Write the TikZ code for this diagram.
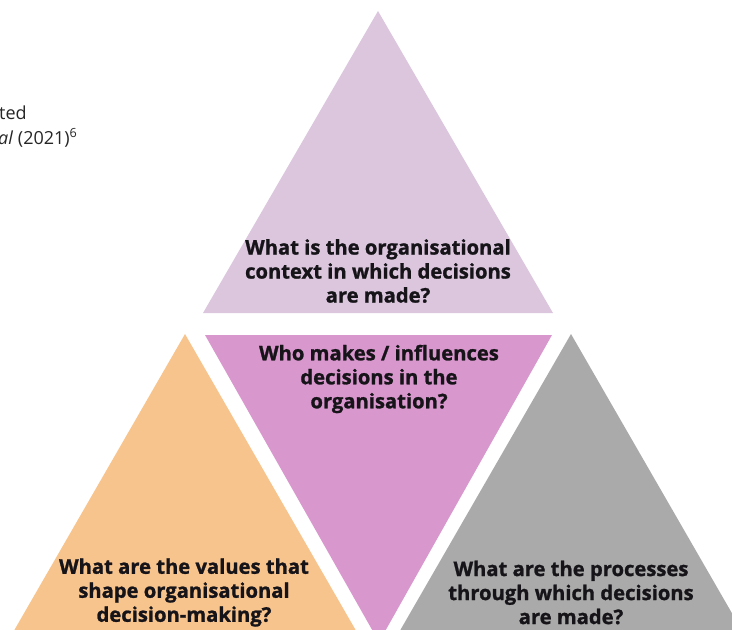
\documentclass[tikz,border=0pt]{standalone}
\usepackage{fontspec}
\setmainfont{Open Sans}
\newfontfamily\questionfont[BoldFeatures={FakeBold=1.2}]{Open Sans}
\definecolor{ctxfill}{RGB}{219,198,222}
\definecolor{whofill}{RGB}{216,151,205}
\definecolor{valfill}{RGB}{248,196,142}
\definecolor{procfill}{RGB}{170,170,170}
\definecolor{qtext}{RGB}{22,20,24}
\begin{document}
\begin{tikzpicture}[x=1pt,y=-1pt,
  question/.style={font=\questionfont\bfseries\fontsize{20.2}{24}\selectfont, align=center,
    text=qtext, inner sep=0pt},
  source/.style={font=\fontsize{18}{22}\selectfont, anchor=base west,
    text=black!85, inner sep=0pt}]
\useasboundingbox (0,0) rectangle (732,630);

% four triangles of the framework
\begin{scope}
  \clip (0,0) rectangle (732,630);
  \fill[ctxfill]  (203,313) -- (553,313) -- (378,11) -- cycle;
  \fill[whofill]  (205,335) -- (552,335) -- (379,642) -- cycle;
  \fill[valfill]  (185,334) -- (-26,700) -- (396,700) -- cycle;
  \fill[procfill] (571,334) -- (360,700) -- (782,700) -- cycle;
\end{scope}

% questions
\node[question] (context) at (378,271)
  {What is the organisational\\context in which decisions\\are made?};
\node[question] (who) at (379,379)
  {Who makes / influences\\decisions in the\\organisation?};
\node[question] (values) at (184,592.5)
  {What are the values that\\shape organisational\\decision-making?};
\node[question] (process) at (571,592.5)
  {What are the processes\\through which decisions\\are made?};

% source note
\node[source] (src1) at (-1,119) {ted};
\node[source] (src2) at (-2,144) {\itshape al\/ \upshape(2021)\textsuperscript{6}};
\end{tikzpicture}
\end{document}
